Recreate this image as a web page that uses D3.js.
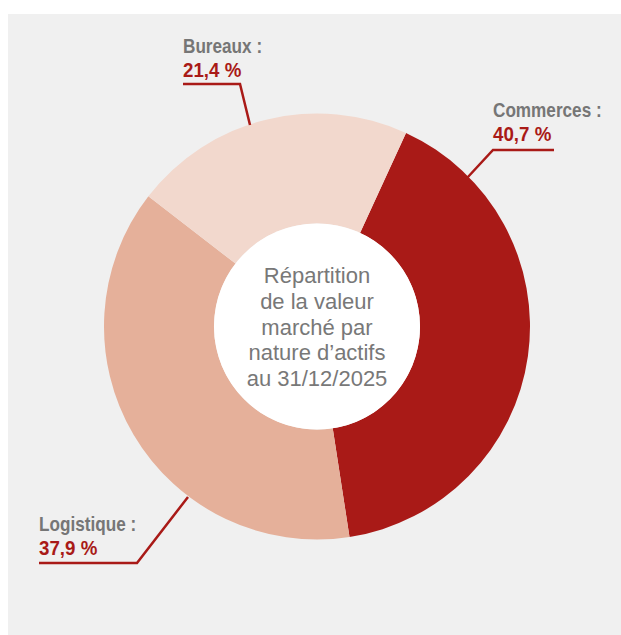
<!DOCTYPE html>
<html><head><meta charset="utf-8">
<script src="https://cdn.jsdelivr.net/npm/d3@7"></script>
<style>body{margin:0;background:#fff}svg{display:block}</style>
</head><body>
<svg id="c" width="621" height="635"></svg>
<script>
const categories = ["Commerces", "Logistique", "Bureaux"];
const values = [40.7, 37.9, 21.4];
const valueLabels = ["40,7 %", "37,9 %", "21,4 %"];
const colors = ["#A91A17", "#E5B09A", "#F2D8CD"];
const centerLines = ["Répartition", "de la valeur", "marché par", "nature d’actifs", "au 31/12/2025"];

const svg = d3.select("#c");
svg.append("rect").attr("x", 8).attr("y", 14).attr("width", 613).attr("height", 621).attr("fill", "#F0F0F0");

const cx = 317, cy = 326.5, R = 213, r = 103;
const startA = 24.7 * Math.PI / 180;
const pie = d3.pie().sort(null).startAngle(startA).endAngle(startA + 2 * Math.PI);
const arcs = pie(values);
const arc = d3.arc().innerRadius(r).outerRadius(R);
const g = svg.append("g").attr("transform", `translate(${cx},${cy})`);
g.selectAll("path").data(arcs).enter().append("path").attr("d", arc).attr("fill", (d, i) => colors[i]);
g.append("circle").attr("r", r).attr("fill", "#fff");

const ct = g.append("text").attr("text-anchor", "middle").attr("fill", "#787878")
  .style("font-family", "'Liberation Sans', Arial, sans-serif").style("font-size", "22px");
centerLines.forEach((t, i) => ct.append("tspan").attr("x", 0).attr("y", -43.5 + i * 25.8).text(t));

// label layout
const labelLayout = [
  {x: 493, y1: 116.5, pts: [[554, 150], [493, 150], [467, 178]]},
  {x: 39, y1: 530.7, pts: [[39, 563], [137, 563], [188, 497]]},
  {x: 183, y1: 52.5, pts: [[183, 84], [240, 84], [250, 125]]}
];
const lf = "'Liberation Sans', Arial, sans-serif";
categories.forEach((c, i) => {
  const L = labelLayout[i];
  svg.append("text").attr("transform", `translate(${L.x},${L.y1}) scale(0.88,1)`).attr("fill", "#767676")
    .style("font-family", lf).style("font-weight", "bold").style("font-size", "19.5px")
    .text(c + " :");
  svg.append("text").attr("transform", `translate(${L.x},${L.y1 + 24.3}) scale(0.96,1)`).attr("fill", "#A91A17")
    .style("font-family", lf).style("font-weight", "bold").style("font-size", "19.5px")
    .text(valueLabels[i]);
  svg.append("polyline").attr("points", L.pts.map(p => p.join(",")).join(" "))
    .attr("fill", "none").attr("stroke", "#A91A17").attr("stroke-width", 2.5);
});
</script>
</body></html>
